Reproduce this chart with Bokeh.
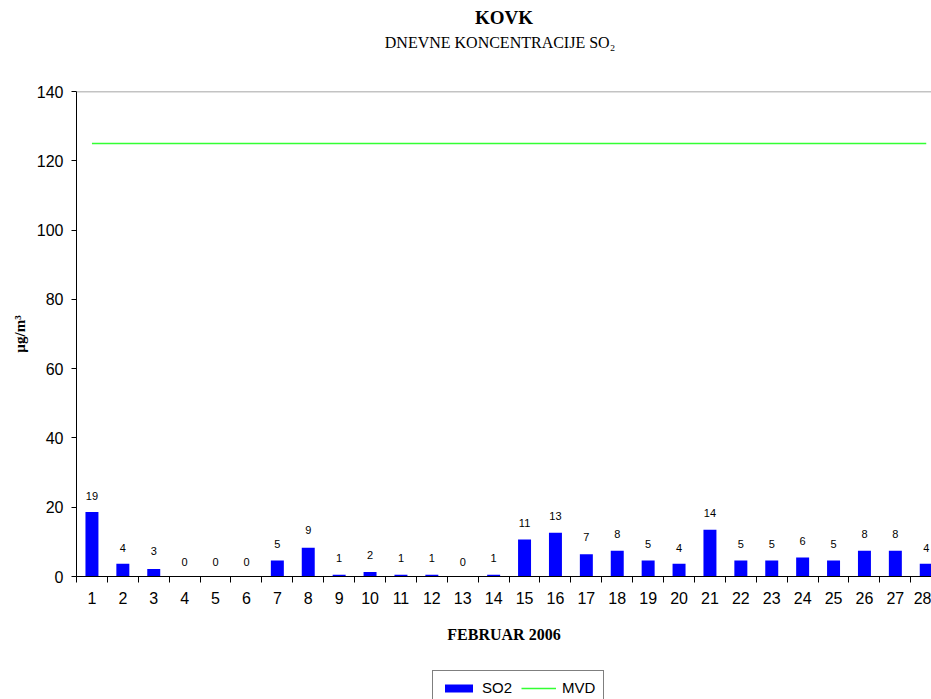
from bokeh.plotting import figure
from bokeh.layouts import column
from bokeh.models import Range1d, FixedTicker, Span, Legend, LegendItem, Title
from bokeh.core.properties import value
from bokeh.embed import file_html
from bokeh.resources import INLINE

# ---- data ----
days = list(range(1, 29))
so2 = [18.6, 3.7, 2.2, 0, 0, 0, 4.6, 8.3, 0.5, 1.3, 0.5, 0.5, 0, 0.5,
       10.7, 12.6, 6.4, 7.4, 4.6, 3.7, 13.5, 4.6, 4.6, 5.5, 4.6, 7.4, 7.4, 3.7]
so2_rounded = [19, 4, 3, 0, 0, 0, 5, 9, 1, 2, 1, 1, 0, 1,
               11, 13, 7, 8, 5, 4, 14, 5, 5, 6, 5, 8, 8, 4]
mvd_limit = 125
y_ticks = [0, 20, 40, 60, 80, 100, 120, 140]
x_labels = [str(d) for d in days]
series_names = ["SO2", "MVD"]

SANS = "Liberation Sans"
SERIF = "Liberation Serif"
BAR_COLOR = "#0000ff"
MVD_COLOR = "#33ff33"

p = figure(frame_width=855, frame_height=485, output_backend="svg", toolbar_location=None,
           x_range=Range1d(0.5, 28.17), y_range=Range1d(0, 140),
           min_border_left=76, min_border_right=0, min_border_top=91,
           min_border_bottom=70)
p.title = None
p.outline_line_color = None
p.background_fill_color = "white"
p.border_fill_color = "white"
p.xgrid.grid_line_color = None
p.ygrid.grid_line_color = None

# titles (spacer first = closest to the frame)
spacer = Title(text=" ", text_font_size="1px", standoff=38)
p.add_layout(spacer, "above")
sub = Title(text="DNEVNE  KONCENTRACIJE  SO\u2082", align="center",
            text_font=SERIF, text_font_size="16px", text_font_style="normal",
            text_color="black", standoff=0)
p.add_layout(sub, "above")
main = Title(text="KOVK", align="center", text_font=SERIF, text_font_size="19px",
             text_font_style="bold", text_color="black", standoff=8)
p.add_layout(main, "above")

# top border line
p.add_layout(Span(location=y_ticks[-1], dimension="width", line_color="#888888",
                  line_width=1.5))

bars = p.vbar(x=days, top=so2, width=0.42, fill_color=BAR_COLOR, line_color=None)
mvd_line = p.line(x=[days[0], days[-1]], y=[mvd_limit, mvd_limit],
                  line_color=MVD_COLOR, line_width=1.5)

p.text(x=days, y=so2_rounded, text=[str(v) for v in so2_rounded],
       text_align="center", text_baseline="middle", y_offset=-15,
       text_font=value(SANS), text_font_size="11px", text_color="black")

# x axis
xa = p.xaxis[0]
xa.ticker = FixedTicker(ticks=days, minor_ticks=[d - 0.5 for d in days] + [days[-1] + 0.5])
xa.major_label_overrides = {d: l for d, l in zip(days, x_labels)}
xa.major_tick_out = 0
xa.major_tick_in = 0
xa.minor_tick_out = 6
xa.minor_tick_in = 0
xa.minor_tick_line_color = "black"
xa.axis_line_color = "black"
xa.major_label_text_font = SANS
xa.major_label_text_font_size = "16px"
xa.major_label_text_color = "black"
xa.major_label_standoff = 9
xa.axis_label = "FEBRUAR 2006"
xa.axis_label_text_font = SERIF
xa.axis_label_text_font_size = "16px"
xa.axis_label_text_font_style = "bold"
xa.axis_label_text_color = "black"
xa.axis_label_standoff = 19

# y axis
ya = p.yaxis[0]
ya.ticker = FixedTicker(ticks=y_ticks)
ya.major_tick_out = 5
ya.major_tick_in = 0
ya.minor_tick_out = 0
ya.minor_tick_in = 0
ya.axis_line_color = "black"
ya.major_tick_line_color = "black"
ya.major_label_text_font = SANS
ya.major_label_text_font_size = "16px"
ya.major_label_text_color = "black"
ya.major_label_standoff = 8
ya.axis_label = "\u00b5g/m\u00b3"
ya.axis_label_text_font = SERIF
ya.axis_label_text_font_size = "15px"
ya.axis_label_text_font_style = "bold"
ya.axis_label_text_color = "black"
ya.axis_label_standoff = 6

# legend strip below the chart (key glyphs styled like the series, kept off-range)
pl = figure(width=931, height=53, output_backend="svg", toolbar_location=None,
            x_range=Range1d(0, 0.5), y_range=Range1d(0, 0.5),
            x_axis_location=None, y_axis_location=None,
            min_border=0, min_border_left=0, min_border_right=0,
            min_border_top=0, min_border_bottom=0)
pl.title = None
pl.outline_line_color = None
pl.grid.visible = False
pl.background_fill_color = "white"
pl.border_fill_color = "white"
key_bar = pl.vbar(x=[days[-1]], top=[so2[-1]], width=0.42,
                  fill_color=BAR_COLOR, line_color=None)
key_line = pl.line(x=[days[0], days[-1]], y=[mvd_limit, mvd_limit],
                   line_color=MVD_COLOR, line_width=1.5)

legend = Legend(items=[LegendItem(label=series_names[0], renderers=[key_bar]),
                       LegendItem(label=series_names[1], renderers=[key_line])],
                orientation="horizontal", location=(356, -6),
                border_line_color="black", border_line_width=1,
                glyph_width=35, glyph_height=10, label_standoff=6, spacing=9,
                padding=8, margin=0, label_text_font=SANS,
                label_text_font_size="15px", label_text_color="black",
                label_height=14)
pl.add_layout(legend, "center")

layout = column(p, pl, spacing=0)
open("out.html", "w").write(file_html(layout, INLINE))
